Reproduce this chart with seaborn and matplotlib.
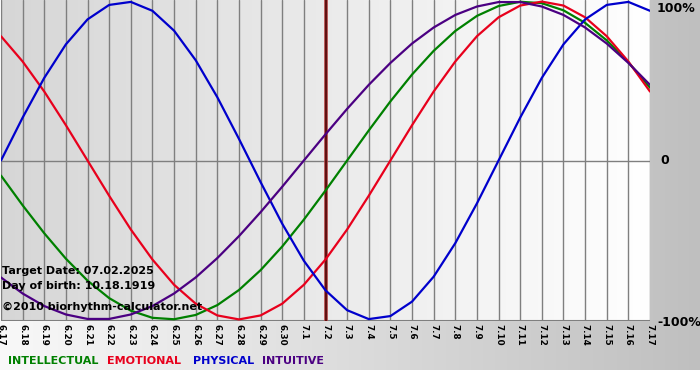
import numpy as np
import pandas as pd
import matplotlib
matplotlib.use("Agg")
import matplotlib.pyplot as plt
import seaborn as sns

# ==========
# DATOS (un valor por dia)
# ==========
dias = ['6.17', '6.18', '6.19', '6.20', '6.21', '6.22', '6.23', '6.24', '6.25', '6.26',
        '6.27', '6.28', '6.29', '6.30', '7.1', '7.2', '7.3', '7.4', '7.5', '7.6',
        '7.7', '7.8', '7.9', '7.10', '7.11', '7.12', '7.13', '7.14', '7.15', '7.16', '7.17']

intelectual = [-0.095, -0.282, -0.458, -0.618, -0.756, -0.866, -0.945, -0.990, -0.999, -0.972,
               -0.910, -0.815, -0.690, -0.541, -0.372, -0.189, 0.000, 0.189, 0.372, 0.541,
               0.690, 0.815, 0.910, 0.972, 0.999, 0.990, 0.945, 0.866, 0.756, 0.618, 0.458]
emocional = [0.782, 0.623, 0.434, 0.222, 0.000, -0.222, -0.434, -0.623, -0.782, -0.901,
             -0.975, -1.000, -0.975, -0.901, -0.782, -0.623, -0.434, -0.222, 0.000, 0.222,
             0.434, 0.623, 0.782, 0.901, 0.975, 1.000, 0.975, 0.901, 0.782, 0.623, 0.434]
fisico = [0.000, 0.270, 0.520, 0.731, 0.888, 0.979, 0.998, 0.942, 0.817, 0.631,
          0.398, 0.136, -0.136, -0.398, -0.631, -0.817, -0.942, -0.998, -0.979, -0.888,
          -0.731, -0.520, -0.270, 0.000, 0.270, 0.520, 0.731, 0.888, 0.979, 0.998, 0.942]
intuitivo = [-0.736, -0.837, -0.916, -0.969, -0.997, -0.997, -0.969, -0.916, -0.837, -0.736,
             -0.614, -0.476, -0.325, -0.165, 0.000, 0.165, 0.325, 0.476, 0.614, 0.736,
             0.837, 0.916, 0.969, 0.997, 0.997, 0.969, 0.916, 0.837, 0.736, 0.614, 0.476]

ciclos = ['INTELLECTUAL', 'EMOTIONAL', 'PHYSICAL', 'INTUITIVE']
colores = {'INTELLECTUAL': '#008000', 'EMOTIONAL': '#e8001c',
           'PHYSICAL': '#0000cc', 'INTUITIVE': '#4b0082'}
dia_objetivo = '7.2'
textos_info = ['Target Date: 07.02.2025', 'Day of birth: 10.18.1919',
               '\u00a92010 biorhythm-calculator.net']

df = pd.DataFrame({
    'dia': list(range(len(dias))) * 4,
    'valor': intelectual + emocional + fisico + intuitivo,
    'ciclo': [c for c in ciclos for _ in dias],
})

# ==========
# FIGURA
# ==========
sns.set_style('white')
plt.rcParams['font.family'] = ['DejaVu Sans']
plt.rcParams['text.color'] = 'black'
plt.rcParams['xtick.color'] = 'black'

W, H = 700, 380
fig = plt.figure(figsize=(7, 3.8), dpi=100)

def px(x, y):
    return x / W, 1 - y / H

# fondo general: degradado claro -> gris, blanco abajo
bg = fig.add_axes([0, 0, 1, 1], zorder=0)
grad = np.linspace(0.975, 0.75, 256)[None, :]
bg.imshow(np.dstack([grad] * 3), extent=(0, W, H - 370, H), aspect='auto')
bg.set_xlim(0, W)
bg.set_ylim(0, H)
bg.axis('off')

ax = fig.add_axes([1 / W, (H - 321) / H, 649 / W, 321 / H], zorder=1)
n = len(dias) - 1
grad2 = np.linspace(0.84, 1.0, 256)[None, :]
ax.imshow(np.dstack([grad2] * 3), extent=(0, n, -1.01, 1.01), aspect='auto', zorder=0)

ax.set_xticks(range(len(dias)))
ax.set_xticklabels(dias, rotation=270, fontsize=6.3, fontweight='bold', va='top', color='black')
ax.tick_params(axis='x', length=0, pad=2)
ax.set_yticks([])
ax.grid(False)
for i in range(len(dias)):
    ax.axvline(i, color='#7f7f7f', lw=1, zorder=1)
ax.axhline(0, color='#7f7f7f', lw=1, zorder=1)
ax.axhline(-1.01, color='#7f7f7f', lw=1.5, zorder=1)

xo = dias.index(dia_objetivo)
ax.axvline(xo, color='#b04040', lw=2.6, zorder=2)
ax.axvline(xo, color='#500808', lw=1.2, zorder=2)

sns.lineplot(data=df, x='dia', y='valor', hue='ciclo', hue_order=ciclos,
             palette=colores, ax=ax, legend=False, linewidth=1.6,
             estimator=None, sort=False, zorder=3)

ax.set_xlim(0, n)
ax.set_ylim(-1.01, 1.01)
ax.set_xlabel('')
ax.set_ylabel('')
for s in ax.spines.values():
    s.set_visible(False)

# etiquetas de la derecha
for y, t in [(8, '100%'), (161, '0'), (322, '-100%')]:
    x0 = 660 if t == '0' else 657
    fig.text(*px(x0, y), t, fontsize=9, fontweight='bold', color='black',
             va='center', ha='left', zorder=5)

# textos informativos
for y, t in zip([271, 286, 307], textos_info):
    fig.text(*px(2, y), t, fontsize=8, fontweight='bold', color='black',
             va='center', ha='left', zorder=5)

# leyenda de colores
for x, c in zip([8, 107, 193, 262], ciclos):
    fig.text(*px(x, 361), c, fontsize=8, fontweight='bold', color=colores[c],
             va='center', ha='left', zorder=5)

plt.savefig('out.png', dpi=100)
